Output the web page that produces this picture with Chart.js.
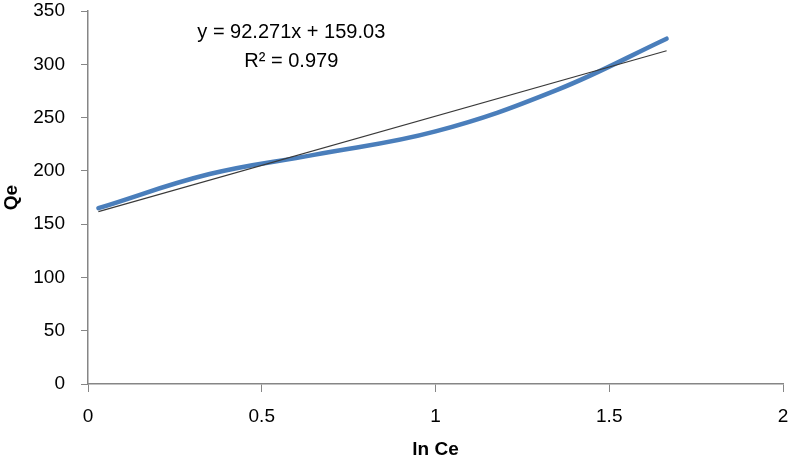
<!DOCTYPE html>
<html lang="en">
<head>
  <meta charset="UTF-8" />
  <title>Qe vs ln Ce</title>
  <script src="https://cdn.jsdelivr.net/npm/chart.js"></script>
  <style>
    body {
      margin: 0;
      background: #fff;
    }
    #wrap {
      width: 790px;
      height: 461px;
    }
  </style>
</head>
<body>
  <div id="wrap"><canvas id="qeChart" width="790" height="461"></canvas></div>

  <script>
    // values
    const lnCe = [0.03, 0.35, 0.65, 1.0, 1.35, 1.665];
    const qe = [165, 197, 215, 237, 276, 324];
    const xTicks = [0, 0.5, 1, 1.5, 2];
    const yTicks = [0, 50, 100, 150, 200, 250, 300, 350];

    // linear trendline as printed on the chart
    const slope = 92.271;
    const intercept = 159.03;
    const rSquared = '0.979';

    const font = "'Liberation Sans', Arial, sans-serif";
    const axisGrey = '#868686';

    const xMin = Math.min(...lnCe);
    const xMax = Math.max(...lnCe);
    const trend = [
      { x: xMin, y: slope * xMin + intercept },
      { x: xMax, y: slope * xMax + intercept }
    ];

    const equationLabel = {
      id: 'equationLabel',
      afterDatasetsDraw(chart) {
        const ctx = chart.ctx;
        const cx = chart.scales.x.getPixelForValue(0.585);
        ctx.save();
        ctx.font = '20px ' + font;
        ctx.fillStyle = '#000';
        ctx.textAlign = 'center';
        ctx.textBaseline = 'middle';
        ctx.fillText('y = ' + slope + 'x + ' + intercept.toFixed(2), cx, chart.scales.y.getPixelForValue(330));
        ctx.fillText('R² = ' + rSquared, cx, chart.scales.y.getPixelForValue(303));
        ctx.restore();
      }
    };

    // keep the plot box where the reference has it
    function noEdgePadding(scale) {
      scale.paddingTop = 0;
      scale.paddingRight = 0;
      scale.paddingLeft = 0;
      scale.paddingBottom = 0;
    }

    new Chart(document.getElementById('qeChart'), {
      type: 'scatter',
      data: {
        datasets: [
          {
            label: 'Qe',
            data: lnCe.map((x, i) => ({ x: x, y: qe[i] })),
            showLine: true,
            borderColor: '#4a7ebb',
            borderWidth: 4.5,
            borderCapStyle: 'round',
            pointRadius: 0,
            tension: 0.4,
            order: 2
          },
          {
            label: 'Linear (Qe)',
            data: trend,
            showLine: true,
            borderColor: '#3a3a3a',
            borderWidth: 1.2,
            pointRadius: 0,
            order: 1
          }
        ]
      },
      options: {
        responsive: false,
        animation: false,
        layout: {
          padding: { top: 11, right: 7, left: 0, bottom: 0 }
        },
        plugins: {
          legend: { display: false },
          tooltip: { enabled: false }
        },
        scales: {
          x: {
            type: 'linear',
            min: 0,
            max: 2,
            afterBuildTicks: scale => { scale.ticks = xTicks.map(v => ({ value: v })); },
            afterFit: scale => { scale.height = 77; noEdgePadding(scale); },
            grid: {
              drawOnChartArea: false,
              tickLength: 8,
              tickColor: axisGrey
            },
            border: { color: axisGrey, width: 1.5 },
            ticks: {
              font: { family: font, size: 19 },
              color: '#000',
              padding: 13,
              callback: v => String(v)
            },
            title: {
              display: true,
              text: 'ln Ce',
              font: { family: font, size: 19, weight: 'bold' },
              color: '#000',
              padding: { top: 0, bottom: 0 }
            }
          },
          y: {
            min: 0,
            max: 350,
            afterBuildTicks: scale => { scale.ticks = yTicks.map(v => ({ value: v })); },
            afterFit: scale => { scale.width = 88; noEdgePadding(scale); },
            grid: {
              drawOnChartArea: false,
              tickLength: 7,
              tickColor: axisGrey
            },
            border: { color: axisGrey, width: 1.5 },
            ticks: {
              font: { family: font, size: 19 },
              color: '#000',
              padding: 16,
              callback: v => String(v)
            },
            title: {
              display: true,
              text: 'Qe',
              font: { family: font, size: 19, weight: 'bold' },
              color: '#000',
              padding: { top: 0, bottom: 0 }
            }
          }
        }
      },
      plugins: [equationLabel]
    });
  </script>
</body>
</html>
